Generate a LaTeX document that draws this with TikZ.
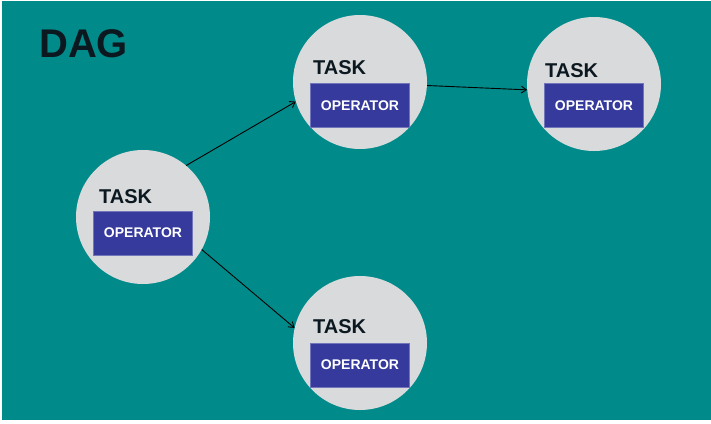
\documentclass[tikz,border=0pt]{standalone}
\usepackage{fontspec}
\setmainfont{Liberation Sans}
\usetikzlibrary{arrows.meta}
\definecolor{teal}{HTML}{008B8A}
\definecolor{taskgray}{HTML}{D9DADC}
\definecolor{opblue}{HTML}{353A9C}
\definecolor{ink}{HTML}{0B1820}
\begin{document}
\begin{tikzpicture}[
    x=1pt, y=-1pt,
    task/.style={circle, fill=taskgray, minimum size=134pt, inner sep=0pt},
    tasklabel/.style={anchor=base west, inner sep=0pt, text=ink, font=\fontsize{20}{22}\selectfont\bfseries},
    operator/.style={rectangle, fill=opblue, draw=opblue!70!white, line width=0.6pt, minimum width=99pt, minimum height=44pt, inner sep=0pt, text=white, font=\fontsize{14}{16}\selectfont\bfseries},
    arrow/.style={-{Straight Barb[length=5pt,width=7pt]}, line width=0.9pt, black},
    ]
    \useasboundingbox (0,0) rectangle (711,423);
    \fill[white] (0,0) rectangle (711,423);
    \fill[teal] (2,1) rectangle (711,420);

    % Title
    \node[anchor=base west, inner sep=0pt, text=ink, font=\fontsize{40}{44}\selectfont\bfseries] (title) at (39,57) {DAG};

    % Tasks
    \node[task] (t1) at (143,217) {};
    \node[task] (t2) at (360,82) {};
    \node[task] (t3) at (594,84) {};
    \node[task] (t4) at (360,343) {};

    % Task labels
    \node[tasklabel] (l1) at (99,203) {TASK};
    \node[tasklabel] (l2) at (313,74) {TASK};
    \node[tasklabel] (l3) at (545,77) {TASK};
    \node[tasklabel] (l4) at (313,333) {TASK};

    % Operators
    \node[operator] (o1) at (143,233) {OPERATOR};
    \node[operator] (o2) at (360,105.5) {OPERATOR};
    \node[operator] (o3) at (594,105.5) {OPERATOR};
    \node[operator] (o4) at (360,365) {OPERATOR};

    % Arrows
    \draw[arrow] (t1.50) -- (t2.197);
    \draw[arrow] (t1.-29) -- (t4.167);
    \draw[arrow] (t2.-3) -- (t3.185);

\end{tikzpicture}
\end{document}
